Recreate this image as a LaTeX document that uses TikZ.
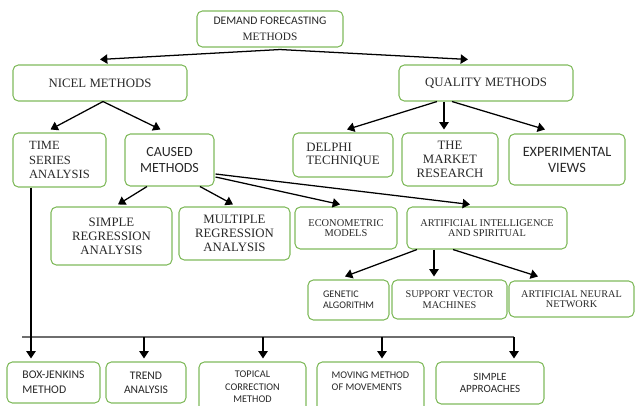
\documentclass[tikz,border=0pt]{standalone}
\usepackage{fontspec}
\setmainfont{Liberation Serif}
\newfontfamily\carl{Carlito}
\usetikzlibrary{calc,arrows.meta}
\newcommand\fs[2]{\fontsize{#1}{#2}\selectfont}
\definecolor{boxgreen}{RGB}{128,186,92}
\definecolor{txtgray}{RGB}{40,40,40}
\definecolor{linegray}{RGB}{110,110,110}
\tikzset{
  box/.style={draw=boxgreen, line width=0.8pt, rounded corners=4pt, inner sep=0pt, align=center, text=txtgray},
  lbox/.style={box, align=left},
  span/.style args={#1/#2/#3/#4}{at={({(#1+#3)/2},{(#2+#4)/2})}, minimum width={(#3-#1)*0.75pt}, minimum height={(#4-#2)*0.75pt}},
  txt/.style={inner sep=0pt, align=left, text=txtgray},
  arr/.style={-{Triangle[length=5.5pt,width=7pt]}, line width=0.95pt, black},
  hline/.style={line width=0.95pt, linegray}
}
\begin{document}
\begin{tikzpicture}[x=0.75pt,y=-0.75pt]
\useasboundingbox (0,0) rectangle (635,406);
% top
\node[box, span=197/11/343/47] (dfm) {{\carl\fs{8.7}{10}DEMAND FORECASTING}\\{\fs{8.5}{10}METHODS}};
\node[box, span=13/65/187/101, font=\fs{9.6}{11}] (nicel) {NICEL METHODS};
\node[box, span=399/65/573/101, font=\fs{9.6}{11}] (quality) {QUALITY METHODS};
% second level
\node[lbox, span=13/133/106/187, font=\fs{9.4}{10.8}] (tsa) {TIME\\SERIES\\ANALYSIS};
\node[box, span=125/134/214/186, font=\carl\fs{10.5}{11.5}] (caused) {CAUSED\\METHODS};
\node[lbox, span=293/133/393/177, font=\fs{9.6}{10}] (delphi) {DELPHI\\TECHNIQUE};
\node[box, span=402/133/498/186, font=\fs{9.6}{10.5}] (market) {THE\\MARKET\\RESEARCH};
\node[box, span=509/134/625/185, font=\carl\fs{10.7}{12}] (exper) {EXPERIMENTAL\\VIEWS};
% third level
\node[box, span=51/207/172/265, font=\fs{9.6}{10.5}] (sra) {SIMPLE\\REGRESSION\\ANALYSIS};
\node[box, span=179/207/290/260, font=\fs{9.6}{10.5}] (mra) {MULTIPLE\\REGRESSION\\ANALYSIS};
\node[box, span=295/207/397/249, font=\fs{7.8}{7.8}] (econ) {ECONOMETRIC\\MODELS};
\node[box, span=407/207/567/249, font=\fs{7.75}{7.8}] (ai) {ARTIFICIAL INTELLIGENCE\\AND SPIRITUAL};
% fourth level
\node[lbox, span=308/280/389/320, font=\carl\fs{7.6}{8.5}] (gen) {GENETIC\\ALGORITHM};
\node[box, span=392/280/507/319, font=\fs{7.7}{7.8}] (svm) {SUPPORT VECTOR\\MACHINES};
\node[box, span=509/281/634/317, font=\fs{7.7}{7.8}] (ann) {ARTIFICIAL NEURAL\\NETWORK};
% bottom row
\node[lbox, span=7/362/100/403, font=\carl\fs{8.8}{11}] (bj) {BOX-JENKINS\\METHOD};
\node[box, span=106/362/186/403, font=\carl\fs{8.7}{10.5}] (trend) {TREND\\ANALYSIS};
\node[box, span=199/362/306/412, font=\carl\fs{7.7}{9.4}] (topical) {TOPICAL\\CORRECTION\\METHOD};
\node[box, span=317/362/424/414] (moving) {};
\node[txt, font=\carl\fs{7.7}{9}] (movingtext) at (370.5,381) {MOVING METHOD\\OF MOVEMENTS};
\node[box, span=436/362/544/404, font=\carl\fs{8.3}{9}] (simple) {SIMPLE\\APPROACHES};
% connectors: top
\draw[arr] ($(dfm.south)+(10,2)$) -- ($(nicel.north)+(0,-5)$);
\draw[arr] ($(dfm.south)+(10,2)$) -- ($(quality.north)+(-18,-5)$);
\draw[arr] ($(nicel.south)+(3,0)$) -- ($(tsa.north)+(-9,-3)$);
\draw[arr] ($(nicel.south)+(3,0)$) -- ($(caused.north)+(-9,-4)$);
\draw[arr] ($(quality.south)+(-49,0)$) -- ($(delphi.north)+(4,-3)$);
\draw[arr] ($(quality.south)+(-42,0)$) -- ($(market.north)+(-6,-3)$);
\draw[arr] ($(quality.south)+(-34,0)$) -- ($(exper.north)+(-22,-4)$);
% caused
\draw[arr] ($(caused.south)+(-22.5,0)$) -- ($(sra.north)+(6.5,-2)$);
\draw[arr] ($(caused.south)+(30.5,0)$) -- ($(mra.north)+(-1.5,-2)$);
\draw[arr] ($(caused.east)+(1,17)$) -- ($(econ.north)+(-6,-2)$);
\draw[arr] ($(caused.east)+(1,14)$) -- ($(ai.north)+(-17,-2)$);
% ai
\draw[arr] ($(ai.south)+(-70,0)$) -- ($(gen.north)+(-3.5,-3)$);
\draw[arr] ($(ai.south)+(-53,0)$) -- ($(svm.north)+(-15.5,-3)$);
\draw[arr] ($(ai.south)+(-34,0)$) -- ($(ann.north)+(-33.5,-4)$);
% bottom
\coordinate (hl) at (22,337);
\coordinate (hr) at (514,337);
\coordinate (d1) at (144,337);
\coordinate (d2) at (263,337);
\coordinate (d3) at (382,337);
\draw[hline] (hl) -- (hr);
\draw[arr] ($(tsa.south)+(-28.5,0)$) -- ($(bj.north)+(-22.5,-3)$);
\draw[arr] (d1) -- ($(d1 |- trend.north)+(0,-3)$);
\draw[arr] (d2) -- ($(d2 |- topical.north)+(0,-3)$);
\draw[arr] (d3) -- ($(d3 |- moving.north)+(0,-3)$);
\draw[arr] (hr) -- ($(hr |- simple.north)+(0,-3)$);
\end{tikzpicture}
\end{document}
